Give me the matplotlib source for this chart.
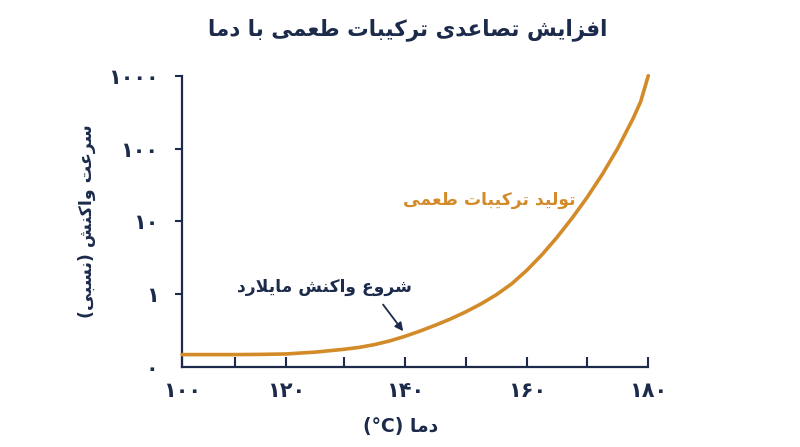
import re
import numpy as np
import matplotlib
matplotlib.use("Agg")
import matplotlib.pyplot as plt

# ---------------- data ----------------
temperature = [100, 105, 110, 115, 120, 125, 130, 132.5, 135, 137.5, 140, 142.5, 145, 147.5,
               150, 152.5, 155, 157.5, 160, 162.5, 165, 167.5, 170, 172.5, 175, 177.5,
               178.75, 180]
reaction_rate = [0.148, 0.148, 0.148, 0.149, 0.151, 0.160, 0.175, 0.186, 0.203, 0.228, 0.264,
                 0.312, 0.375, 0.457, 0.571, 0.735, 0.98, 1.38, 2.12, 3.47, 6.04, 11.1, 21.5,
                 44.8, 101, 258, 441, 1000]

x_major_ticks = [100, 120, 140, 160, 180]
x_major_labels = ['۱۰۰', '۱۲۰', '۱۴۰', '۱۶۰', '۱۸۰']
x_minor_ticks = [110, 130, 150, 170]
y_ticks = [0.1, 1, 10, 100, 1000]
y_tick_labels = ['۰', '۱', '۱۰', '۱۰۰', '۱۰۰۰']

title_text = 'افزایش تصاعدی ترکیبات طعمی با دما'
x_label_text = 'دما (°C)'
y_label_text = 'سرعت واکنش (نسبی)'
curve_label_text = 'تولید ترکیبات طعمی'
start_label_text = 'شروع واکنش مایلارد'

# ---------------- minimal Persian shaping (matplotlib has no complex text layout) ----------------
FORMS = {
    'ا': ('\uFE8D', '\uFE8E', None, None),
    'ب': ('\uFE8F', '\uFE90', '\uFE91', '\uFE92'),
    'ت': ('\uFE95', '\uFE96', '\uFE97', '\uFE98'),
    'د': ('\uFEA9', '\uFEAA', None, None),
    'ر': ('\uFEAD', '\uFEAE', None, None),
    'ز': ('\uFEAF', '\uFEB0', None, None),
    'س': ('\uFEB1', '\uFEB2', '\uFEB3', '\uFEB4'),
    'ش': ('\uFEB5', '\uFEB6', '\uFEB7', '\uFEB8'),
    'ص': ('\uFEB9', '\uFEBA', '\uFEBB', '\uFEBC'),
    'ط': ('\uFEC1', '\uFEC2', '\uFEC3', '\uFEC4'),
    'ع': ('\uFEC9', '\uFECA', '\uFECB', '\uFECC'),
    'ف': ('\uFED1', '\uFED2', '\uFED3', '\uFED4'),
    'ل': ('\uFEDD', '\uFEDE', '\uFEDF', '\uFEE0'),
    'م': ('\uFEE1', '\uFEE2', '\uFEE3', '\uFEE4'),
    'ن': ('\uFEE5', '\uFEE6', '\uFEE7', '\uFEE8'),
    'و': ('\uFEED', '\uFEEE', None, None),
    'ک': ('\uFB8E', '\uFB8F', '\uFB90', '\uFB91'),
    'ی': ('\uFBFC', '\uFBFD', '\uFBFE', '\uFBFF'),
}


def _joins_next(c):
    return c in FORMS and FORMS[c][2] is not None


def shape(text):
    res = []
    i, n = 0, len(text)
    while i < n:
        c = text[i]
        if c not in FORMS:
            res.append(c)
            i += 1
            continue
        prev = text[i - 1] if i > 0 else None
        jp = _joins_next(prev)
        nxt = text[i + 1] if i + 1 < n else None
        if c == 'ل' and nxt == 'ا':
            res.append('\uFEFC' if jp else '\uFEFB')
            i += 2
            continue
        jn = _joins_next(c) and nxt in FORMS
        if jp and jn:
            res.append(FORMS[c][3])
        elif jp:
            res.append(FORMS[c][1])
        elif jn:
            res.append(FORMS[c][2])
        else:
            res.append(FORMS[c][0])
        i += 1
    return ''.join(res)


MIRROR = str.maketrans('()', ')(')
LTR = r'A-Za-z0-9°\u06F0-\u06F9'


def fa(text):
    s = shape(text)
    tokens = re.findall(r'[%s]+|[^%s]+' % (LTR, LTR), s)
    out = []
    for t in reversed(tokens):
        if re.match(r'[%s]' % LTR, t):
            out.append(t)
        else:
            out.append(t[::-1].translate(MIRROR))
    return ''.join(out)


# ---------------- style ----------------
NAVY = '#1c2b4b'
GOLD = '#d38b2a'
plt.rcParams['font.family'] = ['DejaVu Sans']
plt.rcParams['font.weight'] = 'bold'

# slightly non-uniform horizontal spacing of the reference axis
warp_t = np.array([100, 110, 120, 130, 140, 150, 160, 170, 180], float)
warp_p = np.array([0, 52.7, 104, 162, 223, 283.7, 344.7, 405.3, 466.3], float)


def fwd(x):
    x = np.asarray(x, float)
    y = np.interp(x, warp_t, warp_p)
    lo, hi = x < warp_t[0], x > warp_t[-1]
    y = np.where(lo, warp_p[0] + (x - warp_t[0]) * (warp_p[1] - warp_p[0]) / 10, y)
    y = np.where(hi, warp_p[-1] + (x - warp_t[-1]) * (warp_p[-1] - warp_p[-2]) / 10, y)
    return y


def inv(p):
    p = np.asarray(p, float)
    x = np.interp(p, warp_p, warp_t)
    lo, hi = p < warp_p[0], p > warp_p[-1]
    x = np.where(lo, warp_t[0] + (p - warp_p[0]) * 10 / (warp_p[1] - warp_p[0]), x)
    x = np.where(hi, warp_t[-1] + (p - warp_p[-1]) * 10 / (warp_p[-1] - warp_p[-2]), x)
    return x


fig = plt.figure(figsize=(8, 4.47), dpi=100)
fig.patch.set_facecolor('white')
ax = fig.add_axes([182 / 800, 1 - 367 / 447, 466.3 / 800, 291.3 / 447])

ax.set_xscale('function', functions=(fwd, inv))
ax.set_yscale('log')

ax.plot(temperature, reaction_rate, color=GOLD, lw=2.6, solid_capstyle='round',
        solid_joinstyle='round', zorder=3, clip_on=False)

ax.set_xlim(100, 180)
ax.set_ylim(0.1, 1000)

for s in ['top', 'right']:
    ax.spines[s].set_visible(False)
for s in ['left', 'bottom']:
    ax.spines[s].set_color(NAVY)
    ax.spines[s].set_linewidth(1.6)

ax.set_xticks(x_major_ticks)
ax.set_xticklabels(x_major_labels)
ax.set_xticks(x_minor_ticks, minor=True)
ax.xaxis.set_minor_formatter(matplotlib.ticker.NullFormatter())
ax.set_yticks(y_ticks)
ax.set_yticklabels(y_tick_labels)
ax.yaxis.set_minor_locator(matplotlib.ticker.NullLocator())

ax.tick_params(axis='x', which='both', direction='in', length=7.5, width=1.5, color=NAVY,
               labelcolor=NAVY, labelsize=15, pad=10)
ax.tick_params(axis='y', which='both', direction='out', length=5, width=1.5, color=NAVY,
               labelcolor=NAVY, labelsize=15, pad=12)
ax.yaxis.get_major_ticks()[0].tick1line.set_visible(False)

ax.set_xlabel(fa(x_label_text), color=NAVY, fontsize=13.5, fontweight='bold')
ax.xaxis.set_label_coords(0.468, -0.172)
ax.set_ylabel(fa(y_label_text), color=NAVY, fontsize=12.5, fontweight='bold')
ax.yaxis.set_label_coords(-0.185, 0.5)

fig.text(0.51, 1 - 30 / 447, fa(title_text), ha='center', va='center', color=NAVY,
         fontsize=15.5, fontweight='bold')

ax.text(153.8, 19.4, fa(curve_label_text), ha='center', va='center', color=GOLD,
        fontsize=12.3, fontweight='bold')
ax.text(126.6, 1.25, fa(start_label_text), ha='center', va='center', color=NAVY,
        fontsize=12.3, fontweight='bold')
ax.annotate('', xy=(139.7, 0.31), xytext=(136.4, 0.72),
            arrowprops=dict(arrowstyle='-|>', color=NAVY, lw=1.3, mutation_scale=12,
                            shrinkA=0, shrinkB=0))

fig.savefig('out.png', dpi=100, facecolor='white')
